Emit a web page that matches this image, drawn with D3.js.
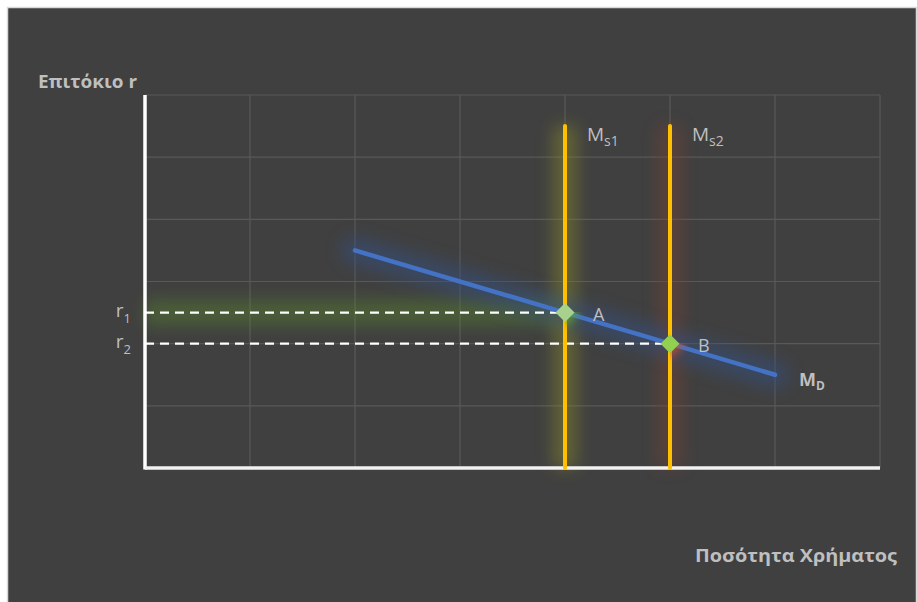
<!DOCTYPE html>
<html>
<head>
<meta charset="utf-8">
<script src="https://cdn.jsdelivr.net/npm/d3@7"></script>
<style>
  html, body { margin: 0; padding: 0; background: #ffffff; }
  svg { display: block; }
</style>
</head>
<body>
<svg id="chart" width="917" height="602"></svg>
<script>
// ---- data ----
const xDomain = [0, 7];
const yDomain = [0, 6];
const demandPoints = [[2, 3.5], [4, 2.5], [5, 2], [6, 1.5]];
const supplyX = [4, 5];
const supplyTop = 5.5;
const supplyLabels = ["s1", "s2"];
const equilibria = [{ name: "A", x: 4, y: 2.5 }, { name: "B", x: 5, y: 2 }];
const rateLabels = ["1", "2"];
const yTitle = "Επιτόκιο r";
const xTitle = "Ποσότητα Χρήματος";

// ---- setup ----
const svg = d3.select("#chart");
const font = "'Open Sans', 'Noto Sans', sans-serif";
const textCol = "#bfbfbf";

svg.append("rect").attr("x", 7.5).attr("y", 7.5).attr("width", 909).attr("height", 600)
  .attr("fill", "#404040").attr("stroke", "#d9d9d9").attr("stroke-width", 1.5);

const x = d3.scaleLinear().domain(xDomain).range([145, 880]);
const y = d3.scaleLinear().domain(yDomain).range([468, 95]);

const defs = svg.append("defs");
function blurFilter(id, sd) {
  const f = defs.append("filter").attr("id", id)
    .attr("filterUnits", "userSpaceOnUse")
    .attr("x", 0).attr("y", 0).attr("width", 917).attr("height", 602);
  f.append("feGaussianBlur").attr("stdDeviation", sd);
}
blurFilter("blur8", 8);
blurFilter("blur5", 5);

// gridlines
const gx = x.ticks(7), gy = y.ticks(6);
svg.append("g").selectAll("line").data(gx).join("line")
  .attr("x1", d => x(d)).attr("x2", d => x(d))
  .attr("y1", y(yDomain[1])).attr("y2", y(0))
  .attr("stroke", "#595959").attr("stroke-width", 1.2);
svg.append("g").selectAll("line").data(gy).join("line")
  .attr("x1", x(0)).attr("x2", x(xDomain[1]))
  .attr("y1", d => y(d)).attr("y2", d => y(d))
  .attr("stroke", "#595959").attr("stroke-width", 1.2);

const line = d3.line().x(d => x(d[0])).y(d => y(d[1]));

// glows
const r1 = equilibria[0];
svg.append("path").attr("d", line([[0, r1.y], [r1.x, r1.y]]))
  .attr("stroke", "#5a8a2a").attr("stroke-width", 26).attr("opacity", 0.4)
  .attr("fill", "none").attr("filter", "url(#blur8)");
svg.append("path").attr("d", line([[supplyX[0], 0], [supplyX[0], supplyTop]]))
  .attr("stroke", "#85852a").attr("stroke-width", 24).attr("opacity", 0.5)
  .attr("fill", "none").attr("filter", "url(#blur8)");
svg.append("path").attr("d", line([[supplyX[1], 0], [supplyX[1], supplyTop]]))
  .attr("stroke", "#7a4232").attr("stroke-width", 24).attr("opacity", 0.45)
  .attr("fill", "none").attr("filter", "url(#blur8)");
svg.append("path").attr("d", line(demandPoints))
  .attr("stroke", "#36507e").attr("stroke-width", 28).attr("opacity", 0.55)
  .attr("stroke-linecap", "round")
  .attr("fill", "none").attr("filter", "url(#blur8)");

// axes (white)
svg.append("line").attr("x1", x(0)).attr("x2", x(0)).attr("y1", y(yDomain[1])).attr("y2", y(0) + 1.5)
  .attr("stroke", "#ffffff").attr("stroke-width", 3.5);
svg.append("line").attr("x1", x(0)).attr("x2", x(xDomain[1])).attr("y1", y(0)).attr("y2", y(0))
  .attr("stroke", "#f2f2f2").attr("stroke-width", 3.5);

// dashed rate lines
svg.append("g").selectAll("path").data(equilibria).join("path")
  .attr("d", d => line([[0, d.y], [d.x, d.y]]))
  .attr("stroke", "#ffffff").attr("stroke-width", 2.2)
  .attr("stroke-dasharray", "9,6").attr("fill", "none");

// supply lines
svg.append("g").selectAll("path").data(supplyX).join("path")
  .attr("d", d => line([[d, 0], [d, supplyTop]]))
  .attr("stroke", "#ffc000").attr("stroke-width", 4)
  .attr("stroke-linecap", "round").attr("fill", "none");

// demand line
svg.append("path").attr("d", line(demandPoints))
  .attr("stroke", "#4472c4").attr("stroke-width", 4.5)
  .attr("stroke-linecap", "round").attr("fill", "none");

// markers glow + diamonds
const glowCols = ["#5fae2a", "#d8502a"];
const fillCols = ["#a9d18e", "#92d050"];
const diamond = d3.symbol().type(d3.symbolDiamond2).size(230);
svg.append("g").selectAll("path").data(equilibria).join("path")
  .attr("d", d3.symbol().type(d3.symbolDiamond2).size(520))
  .attr("transform", d => `translate(${x(d.x)},${y(d.y)})`)
  .attr("fill", (d, i) => glowCols[i]).attr("opacity", 0.75)
  .attr("filter", "url(#blur5)");
svg.append("g").selectAll("path").data(equilibria).join("path")
  .attr("d", diamond)
  .attr("transform", d => `translate(${x(d.x)},${y(d.y)})`)
  .attr("fill", (d, i) => fillCols[i]);

// point labels
svg.append("g").selectAll("text").data(equilibria).join("text")
  .attr("x", d => x(d.x) + 28).attr("y", d => y(d.y) + 8)
  .attr("font-family", font).attr("font-size", 18).attr("fill", textCol)
  .text(d => d.name);

// supply labels
supplyX.forEach((sx, i) => {
  const t = svg.append("text").attr("x", x(sx) + 22).attr("y", y(supplyTop) + 15)
    .attr("font-family", font).attr("font-size", 19).attr("fill", textCol);
  t.append("tspan").text("M");
  t.append("tspan").attr("font-size", 14).attr("dy", 5).text(supplyLabels[i]);
});

// demand label
const last = demandPoints[demandPoints.length - 1];
const md = svg.append("text").attr("x", x(last[0]) + 24).attr("y", y(last[1]) + 11)
  .attr("font-family", font).attr("font-size", 18).attr("font-weight", "bold").attr("fill", textCol);
md.append("tspan").text("M");
md.append("tspan").attr("font-size", 12).attr("dy", 4).text("D");

// rate labels
equilibria.forEach((d, i) => {
  const t = svg.append("text").attr("x", 131).attr("y", y(d.y) + 4)
    .attr("text-anchor", "end")
    .attr("font-family", font).attr("font-size", 19).attr("fill", textCol);
  t.append("tspan").text("r");
  t.append("tspan").attr("font-size", 13).attr("dy", 6).text(rateLabels[i]);
});

// axis titles
svg.append("text").attr("x", 38).attr("y", 88)
  .attr("font-family", font).attr("font-size", 18).attr("font-weight", "bold").attr("fill", textCol)
  .attr("textLength", 99).attr("lengthAdjust", "spacingAndGlyphs")
  .text(yTitle);
svg.append("text").attr("x", 695).attr("y", 562)
  .attr("font-family", font).attr("font-size", 18).attr("font-weight", "bold").attr("fill", textCol)
  .attr("textLength", 202).attr("lengthAdjust", "spacingAndGlyphs")
  .text(xTitle);
</script>
</body>
</html>
